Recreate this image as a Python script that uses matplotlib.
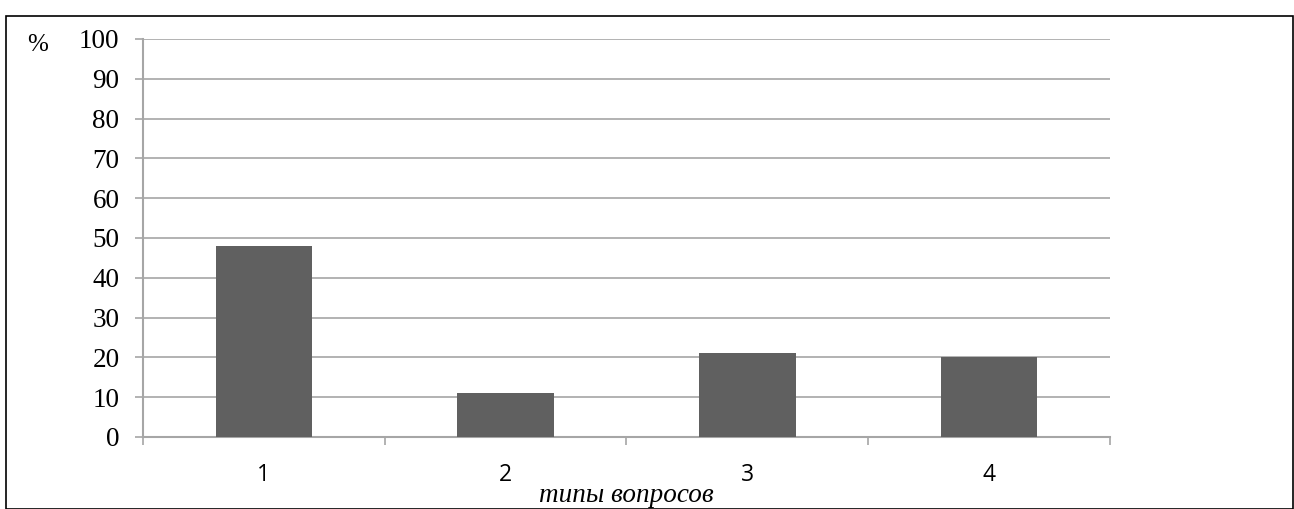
import matplotlib.pyplot as plt
from matplotlib.patches import Rectangle
import numpy as np

categories = ["1", "2", "3", "4"]
values = [48, 11, 21, 20]
yticks = [0, 10, 20, 30, 40, 50, 60, 70, 80, 90, 100]

fig = plt.figure(figsize=(12.94, 5.09), dpi=100)
ax = fig.add_axes([0.1105, 0.1415, 0.7473, 0.7819])

x = np.arange(len(categories))
ax.bar(x, values, width=0.4, color="#606060", zorder=3)

ax.set_xlim(-0.5, len(categories) - 0.5)
ax.set_ylim(0, 100)
ax.set_yticks(yticks)
ax.set_yticklabels([str(v) for v in yticks], fontfamily="Liberation Serif", fontsize=19.5)
ax.set_xticks(x)
ax.set_xticklabels(categories, fontfamily="Open Sans", fontsize=16.5)
ax.set_xticks(np.arange(-0.5, len(categories)), minor=True)

gc = "#a6a6a6"
ax.grid(axis="y", color=gc, linewidth=1.2, zorder=0)
for s in ["top", "right"]:
    ax.spines[s].set_visible(False)
for s in ["left", "bottom"]:
    ax.spines[s].set_color(gc)
    ax.spines[s].set_linewidth(1.5)
ax.tick_params(axis="y", length=6, color=gc, width=1.2, pad=11)
ax.tick_params(axis="x", which="major", length=0, pad=19)
ax.tick_params(axis="x", which="minor", length=6, color=gc, width=1.2)

ax.set_xlabel("типы вопросов", fontfamily="Liberation Serif", style="italic",
              fontsize=19.5, labelpad=-3)
fig.text(38 / 1294, 1 - 45 / 509, "%", fontfamily="Liberation Serif",
         fontsize=18, ha="center", va="center")

fig.patches.append(Rectangle((6 / 1294, 0.5 / 509), 1286.5 / 1294, 493 / 509,
                             transform=fig.transFigure, fill=False,
                             edgecolor="black", linewidth=1.2))

fig.savefig("out.png", dpi=100)
